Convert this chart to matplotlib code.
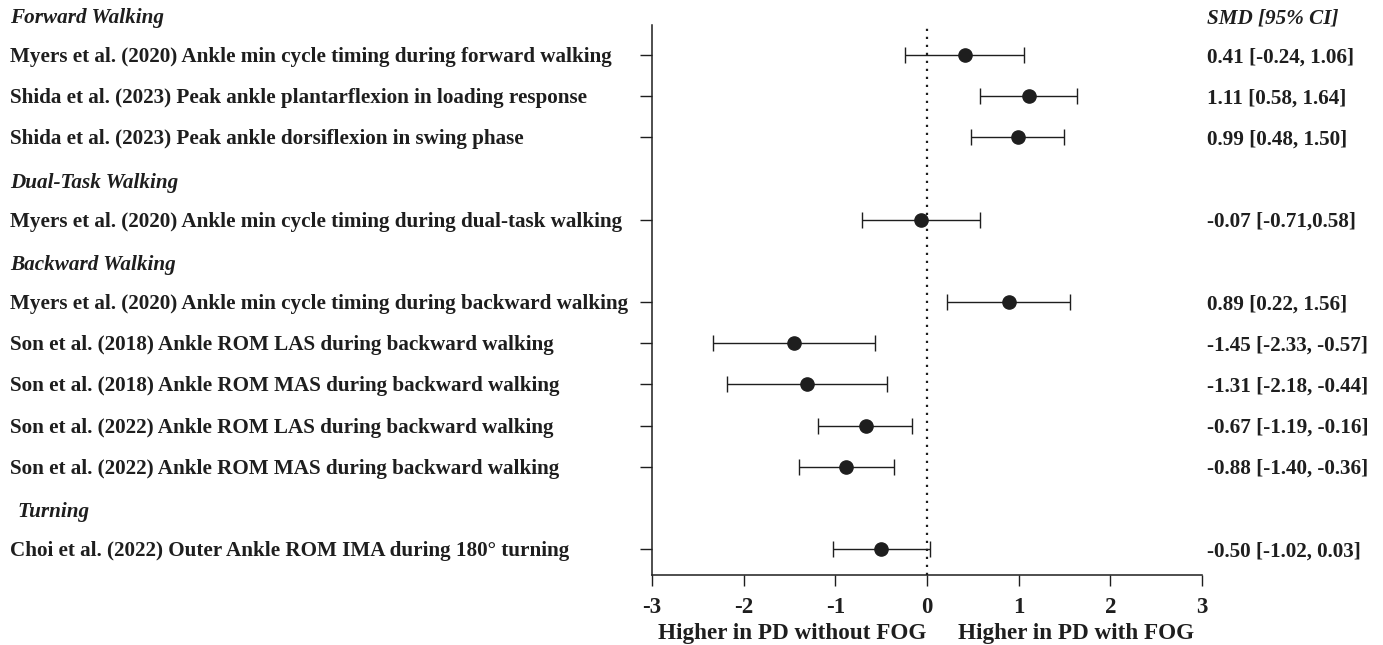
import matplotlib.pyplot as plt
import matplotlib.transforms as mtransforms
import numpy as np

plt.rcParams['font.family'] = ['Liberation Serif', 'DejaVu Serif']

# Studies (top to bottom) with SMD and 95% CI
studies = [
    "Myers et al. (2020) Ankle min cycle timing during forward walking",
    "Shida et al. (2023) Peak ankle plantarflexion in loading response",
    "Shida et al. (2023) Peak ankle dorsiflexion in swing phase",
    "Myers et al. (2020) Ankle min cycle timing during dual-task walking",
    "Myers et al. (2020) Ankle min cycle timing during backward walking",
    "Son et al. (2018) Ankle ROM LAS during backward walking",
    "Son et al. (2018) Ankle ROM MAS during backward walking",
    "Son et al. (2022) Ankle ROM LAS during backward walking",
    "Son et al. (2022) Ankle ROM MAS during backward walking",
    "Choi et al. (2022) Outer Ankle ROM IMA during 180° turning",
]
smd = [0.41, 1.11, 0.99, -0.07, 0.89, -1.45, -1.31, -0.67, -0.88, -0.50]
ci_low = [-0.24, 0.58, 0.48, -0.71, 0.22, -2.33, -2.18, -1.19, -1.40, -1.02]
ci_high = [1.06, 1.64, 1.50, 0.58, 1.56, -0.57, -0.44, -0.16, -0.36, 0.03]
smd_text = [
    "0.41 [-0.24, 1.06]", "1.11 [0.58, 1.64]", "0.99 [0.48, 1.50]",
    "-0.07 [-0.71,0.58]", "0.89 [0.22, 1.56]", "-1.45 [-2.33, -0.57]",
    "-1.31 [-2.18, -0.44]", "-0.67 [-1.19, -0.16]", "-0.88 [-1.40, -0.36]",
    "-0.50 [-1.02, 0.03]",
]
study_rows = [1, 2, 3, 5, 7, 8, 9, 10, 11, 13]

groups = ["Forward Walking", "Dual-Task Walking", "Backward Walking", "Turning"]
group_rows = [0, 4, 6, 12]

x_ticks = [-3, -2, -1, 0, 1, 2, 3]
x_ticklabels = ["-3", "-2", "-1", "0", "1", "2", "3"]

ink = "#1e1e1e"
fs = 15.2

fig = plt.figure(figsize=(13.83, 6.45), dpi=100)
ax = fig.add_axes([0.4714, 0.1085, 0.3977, 0.8527])

smd = np.array(smd)
err = np.array([smd - np.array(ci_low), np.array(ci_high) - smd])
ax.errorbar(smd, study_rows, xerr=err, fmt='o', color=ink, ecolor=ink,
            markersize=9.5, elinewidth=1.0, capsize=5.5, capthick=1.0)
ax.axvline(0, color=ink, linestyle=(0, (1, 2.6)), linewidth=1.6)

ax.set_xlim(-3, 3)
ax.set_ylim(13.63, 0.27)
ax.set_xticks(x_ticks)
ax.set_xticklabels(x_ticklabels, fontweight='bold')
ax.set_yticks(study_rows)
ax.set_yticklabels([])
ax.tick_params(axis='x', length=8, width=1, colors=ink, labelsize=16.5, pad=8)
ax.tick_params(axis='y', length=9, width=1, colors=ink)
for side in ['top', 'right']:
    ax.spines[side].set_visible(False)
for side in ['left', 'bottom']:
    ax.spines[side].set_color(ink)
    ax.spines[side].set_linewidth(1.1)

# Row labels on the left, effect sizes on the right
left = mtransforms.blended_transform_factory(fig.transFigure, ax.transData)
dy = 0.05
for row, name in zip(study_rows, studies):
    ax.text(10 / 1383, row + dy, name, transform=left, ha='left', va='center',
            fontsize=fs, fontweight='bold', color=ink, clip_on=False)
for row, txt in zip(study_rows, smd_text):
    ax.text(1207 / 1383, row + dy, txt, transform=left, ha='left', va='center',
            fontsize=fs, fontweight='bold', color=ink, clip_on=False)
for row, g in zip(group_rows, groups):
    x0 = 17 / 1383 if g == "Turning" else 10 / 1383
    ax.text(x0, row + 0.1, g, transform=left, ha='left', va='center',
            fontsize=fs, fontweight='bold', style='italic', color=ink,
            clip_on=False)
ax.text(1207 / 1383, group_rows[0] + 0.1, "SMD [95% CI]", transform=left,
        ha='left', va='center', fontsize=fs, fontweight='bold',
        style='italic', color=ink, clip_on=False)

fig.text(792 / 1383, 1 - 634 / 645, "Higher in PD without FOG", ha='center',
         va='center', fontsize=16.7, fontweight='bold', color=ink)
fig.text(1076 / 1383, 1 - 634 / 645, "Higher in PD with FOG", ha='center',
         va='center', fontsize=16.7, fontweight='bold', color=ink)

fig.savefig("out.png", dpi=100)
